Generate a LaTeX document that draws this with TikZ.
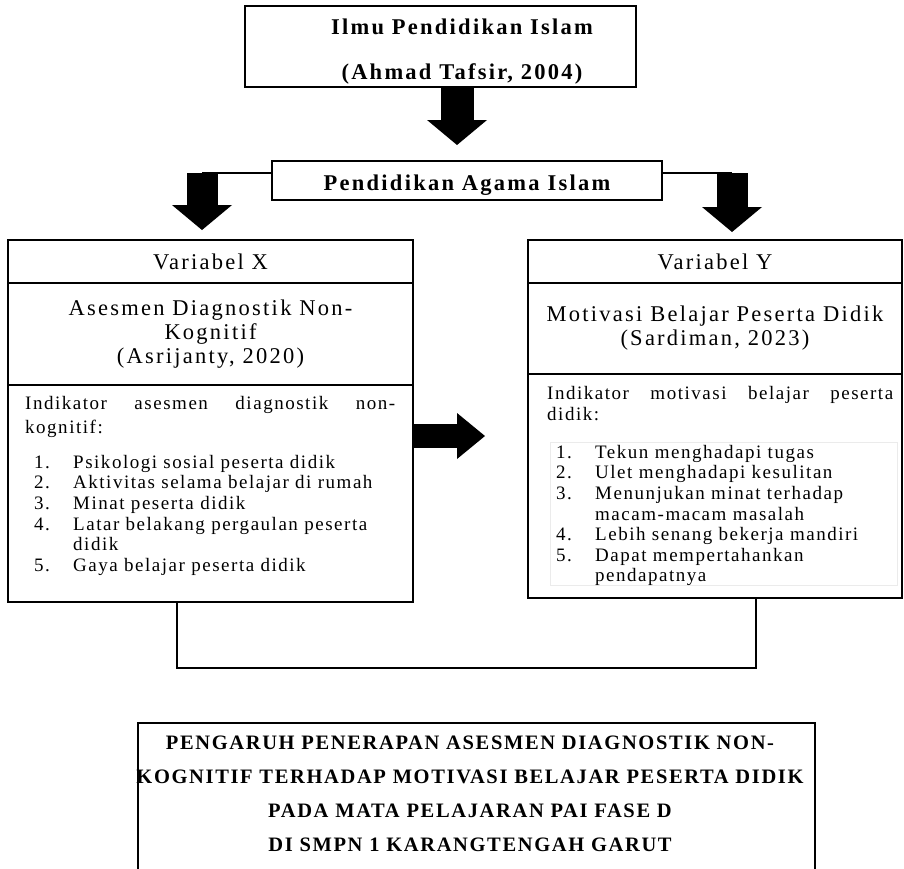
\documentclass[tikz,border=0pt]{standalone}
\usepackage{fontspec}
\setmainfont{Liberation Serif}[LetterSpace=10]
\usetikzlibrary{positioning,arrows.meta}

\newcommand{\butir}[2]{\hspace*{9pt}\makebox[39pt][l]{#1}#2}

\begin{document}
\begin{tikzpicture}[x=1pt, y=-1pt,
		box/.style={draw, rectangle, line width=1.6pt, outer sep=0pt, inner sep=0pt},
		head/.style={font=\fontsize{22.5}{24}\selectfont, align=center},
		list/.style={anchor=north west, inner sep=0pt, align=left, font=\fontsize{19}{20.6}\selectfont\addfontfeatures{LetterSpace=8}},
		blockarrow/.style={line width=31pt, -{Triangle[width=60pt, length=25pt, line width=0pt]}},
		link/.style={line width=1.6pt}]
				\path[use as bounding box, clip] (0,0) rectangle (904,868);

				\node (ilmu) [box, minimum width=391pt, minimum height=81pt] at (440.5,46.5) {};
				\node (ilmutext) [align=center, font=\bfseries\fontsize{22.5}{45}\selectfont] at (462,52) {Ilmu Pendidikan Islam\\(Ahmad Tafsir, 2004)};
				\node (pai) [box, font=\bfseries\fontsize{22.5}{24}\selectfont, text height=21pt, text depth=2pt, minimum width=390pt, minimum height=39pt] at (467,180.5) {Pendidikan Agama Islam};

				% Variabel X
				\node (varx) [box, head, minimum width=405pt, minimum height=43pt, anchor=north west] at (8,240) {Variabel X};
				\node (asesmen) [box, head, minimum width=405pt, minimum height=102pt, below=0pt of varx] {Asesmen Diagnostik Non-\\Kognitif\\(Asrijanty, 2020)};
				\node (indx) [box, minimum width=405pt, minimum height=217pt, below=0pt of asesmen] {};
				\node (indxtext) [list, text width=370pt] at ([xshift=17pt, yshift=-11pt]indx.north west) {Indikator\hfill asesmen\hfill diagnostik\hfill non-\\[3.4pt]
					kognitif:\\[14.4pt]
					\butir{1.}{Psikologi sosial peserta didik}\\
					\butir{2.}{Aktivitas selama belajar di rumah}\\
					\butir{3.}{Minat peserta didik}\\
					\butir{4.}{Latar belakang pergaulan peserta}\\
					\hspace*{48pt}didik\\
					\butir{5.}{Gaya belajar peserta didik}};

				% Variabel Y
				\node (vary) [box, head, minimum width=374pt, minimum height=43pt, anchor=north west] at (528,240) {Variabel Y};
				\node (motivasi) [box, head, minimum width=374pt, minimum height=91pt, below=0pt of vary] {Motivasi Belajar Peserta Didik\\(Sardiman, 2023)};
				\node (indy) [box, minimum width=374pt, minimum height=224pt, below=0pt of motivasi] {};
				\node (daftar) [draw=black!8, line width=0.6pt, minimum width=347pt, minimum height=143pt] at (723.5,513.5) {};
				\node (indytext) [list, text width=346pt] at ([xshift=19pt, yshift=-12pt]indy.north west) {Indikator\hfill motivasi\hfill belajar\hfill peserta\\[0.4pt]
					didik:\\[17.4pt]
					\butir{1.}{Tekun menghadapi tugas}\\
					\butir{2.}{Ulet menghadapi kesulitan}\\
					\butir{3.}{Menunjukan minat terhadap}\\
					\hspace*{48pt}macam-macam masalah\\
					\butir{4.}{Lebih senang bekerja mandiri}\\
					\butir{5.}{Dapat mempertahankan}\\
					\hspace*{48pt}pendapatnya};

				% Judul
				\node (judul) [box, minimum width=677pt, minimum height=160pt, anchor=north] at (476.5,723) {};
				\node (judultext) [align=center, font=\bfseries\fontsize{20.5}{34}\selectfont\addfontfeatures{LetterSpace=8}] at (470,794) {PENGARUH PENERAPAN ASESMEN DIAGNOSTIK NON-\\KOGNITIF TERHADAP MOTIVASI BELAJAR PESERTA DIDIK\\PADA MATA PELAJARAN PAI FASE D\\DI SMPN 1 KARANGTENGAH GARUT};

				\coordinate (ilmutip) at (457,145);
				\coordinate (xtop) at (202,173);
				\coordinate (ytop) at (732,173);
				\coordinate (midtip) at (485,436);
				\coordinate (xjoin) at (177,668);
				\coordinate (yjoin) at (756,668);

				% Arrows
				\draw[blockarrow, line width=33pt] (ilmu.south -| ilmutip) -- (ilmutip);
				\draw[link] (pai.west |- xtop) -- (xtop);
				\draw[link] (pai.east |- ytop) -- (ytop);
				\draw[blockarrow, shorten >=10pt] (xtop) -- (xtop |- varx.north);
				\draw[blockarrow, shorten >=8pt] (ytop) -- (ytop |- vary.north);
				\draw[blockarrow, line width=24pt, -{Triangle[width=46pt, length=28pt, line width=0pt]}] (indx.east |- midtip) -- (midtip);
				\draw[link] (indx.south -| xjoin) -- (xjoin) -- (yjoin) -- (indy.south -| yjoin);
			\end{tikzpicture}
\end{document}
